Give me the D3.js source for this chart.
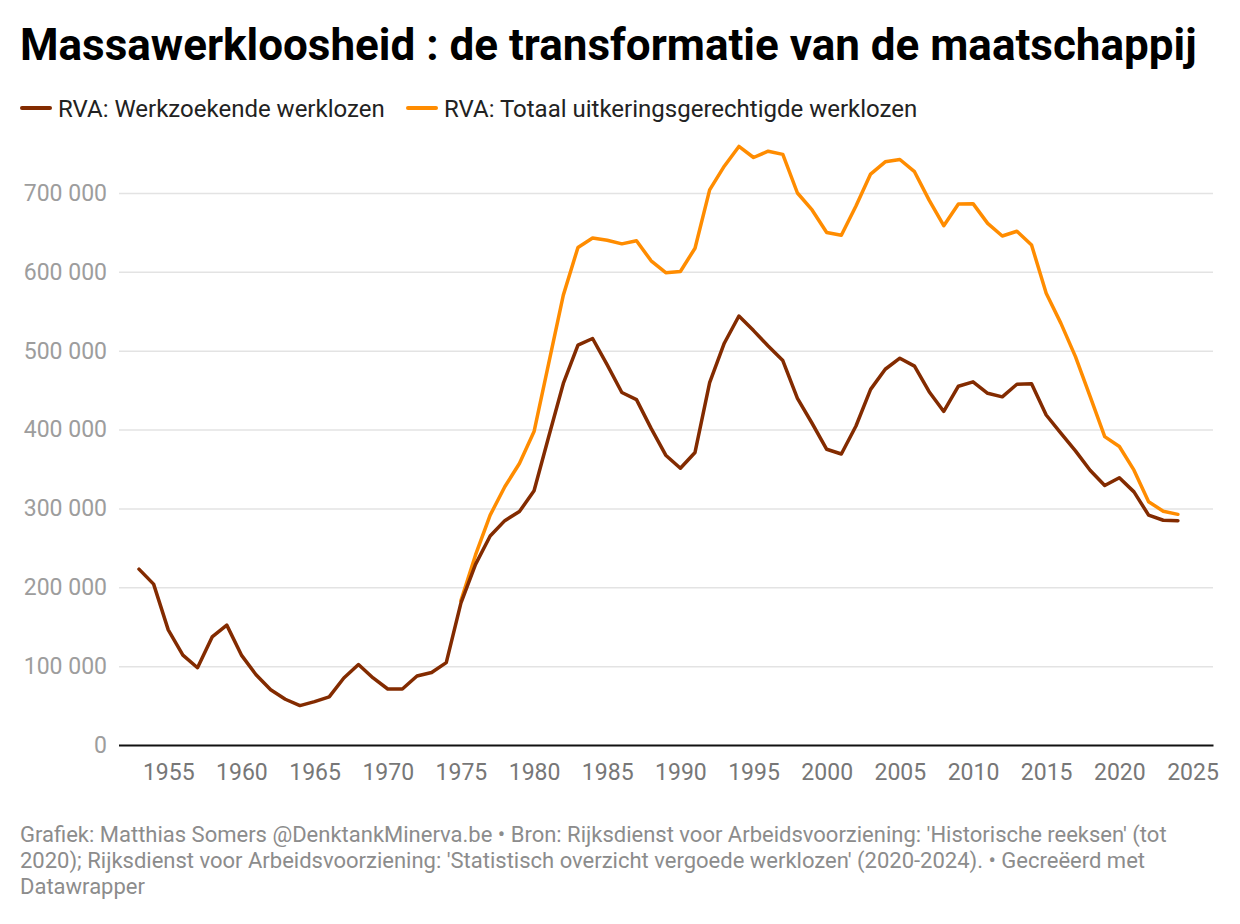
<!DOCTYPE html>
<html>
<head>
<meta charset="utf-8">
<script src="https://cdn.jsdelivr.net/npm/d3@7"></script>
<style>
  body { margin: 0; background: #fff; font-family: Roboto, sans-serif; }
  svg text { font-family: Roboto, sans-serif; }
</style>
</head>
<body>
<svg id="chart" width="1240" height="924"></svg>
<script>
// years for both series
var years = d3.range(1953, 2025);

// RVA: Werkzoekende werklozen (1953-2024)
var werkzoekend = [
    223000, 204000, 146000, 114000, 98000, 137000, 152000, 114000, 89000, 70000,
    58000, 50000, 55000, 61000, 85000, 102000, 85000, 71000, 71000, 87500,
    92000, 104500, 180000, 229000, 265000, 284500, 296000, 322500, 391000, 458500,
    507000, 515500, 482000, 447000, 438000, 401500, 367500, 351000, 371000, 459500,
    509500, 544000, 525500, 506000, 487500, 439500, 408000, 375000, 369000, 404500,
    451000, 476500, 490500, 480500, 448000, 423000, 455000, 460500, 446000, 441500,
    457500, 458000, 418500, 395500, 373000, 348500, 329000, 339000, 321000, 291500,
    285000, 284500
];

// RVA: Totaal uitkeringsgerechtigde werklozen (1975-2024)
var totaalYears = d3.range(1975, 2025);
var totaal = [
    183000, 241000, 291500, 327500, 357000, 397500, 484000, 570500, 631000, 643000,
    640000, 635500, 639500, 614000, 599000, 600500, 630000, 704000, 734000, 759000,
    745000, 753000, 749000, 700000, 678500, 650000, 646500, 683500, 724000, 739500,
    742500, 727000, 691000, 658500, 686000, 686500, 661500, 645500, 651500, 634000,
    573000, 535000, 492500, 442000, 391000, 378500, 348500, 308500, 296500, 292500
];

var yTicks = [0, 100000, 200000, 300000, 400000, 500000, 600000, 700000];
var xTicks = d3.range(1955, 2026, 5);

var svg = d3.select("#chart");

var x = d3.scaleLinear().domain([1951.6, 2026.4]).range([118.5, 1213]);
var y = d3.scaleLinear().domain([0, 700000]).range([745, 193]);

var fmt = function (d) { return d3.format(",")(d).replace(/,/g, " "); };

// title
svg.append("text")
    .attr("x", 20).attr("y", 60)
    .attr("font-size", 44).attr("font-weight", 700)
    .attr("fill", "#000")
    .text("Massawerkloosheid : de transformatie van de maatschappij");

// legend
var legend = [
    { label: "RVA: Werkzoekende werklozen", color: "#832b00", x: 20 },
    { label: "RVA: Totaal uitkeringsgerechtigde werklozen", color: "#ff8c00", x: 406 }
];
var lg = svg.selectAll("g.legend").data(legend).enter().append("g")
    .attr("class", "legend")
    .attr("transform", (d) => `translate(${d.x},108)`);
lg.append("line")
    .attr("x1", 2).attr("x2", 30).attr("y1", 0).attr("y2", 0)
    .attr("stroke", (d) => d.color).attr("stroke-width", 4)
    .attr("stroke-linecap", "round");
lg.append("text")
    .attr("x", 38).attr("y", 8.5)
    .attr("font-size", 24).attr("fill", "#222")
    .text((d) => d.label);

// y grid + labels
var yAxis = d3.axisLeft(y).tickValues(yTicks).tickSize(-(1213 - 119)).tickFormat(fmt);
var gy = svg.append("g").attr("transform", "translate(119,0)").call(yAxis);
gy.select(".domain").remove();
gy.selectAll(".tick line").attr("stroke", "#e3e3e3").attr("stroke-width", 1.5);
gy.selectAll(".tick text")
    .attr("x", -12).attr("dy", "0.32em")
    .attr("font-size", 23).attr("fill", "#9d9d9d")
    .attr("font-family", "Roboto, sans-serif");
gy.selectAll(".tick").filter((d) => d === 0).select("line").remove();

// x axis
var xAxis = d3.axisBottom(x).tickValues(xTicks).tickSize(0).tickFormat(d3.format("d"));
var gx = svg.append("g").attr("transform", "translate(0,745)").call(xAxis);
gx.select(".domain").attr("stroke", "#111").attr("stroke-width", 2.2);
gx.selectAll(".tick text")
    .attr("y", 35).attr("dy", 0)
    .attr("font-size", 23).attr("fill", "#777")
    .attr("font-family", "Roboto, sans-serif");

// lines
var line = d3.line()
    .x((d) => x(d[0]))
    .y((d) => y(d[1]));

svg.append("path")
    .datum(d3.zip(totaalYears, totaal))
    .attr("d", line)
    .attr("fill", "none")
    .attr("stroke", "#ff8c00")
    .attr("stroke-width", 3.5)
    .attr("stroke-linejoin", "round")
    .attr("stroke-linecap", "round");

svg.append("path")
    .datum(d3.zip(years, werkzoekend))
    .attr("d", line)
    .attr("fill", "none")
    .attr("stroke", "#832b00")
    .attr("stroke-width", 3.5)
    .attr("stroke-linejoin", "round")
    .attr("stroke-linecap", "round");

// footer
var footer = [
    "Grafiek: Matthias Somers @DenktankMinerva.be • Bron: Rijksdienst voor Arbeidsvoorziening: 'Historische reeksen' (tot",
    "2020); Rijksdienst voor Arbeidsvoorziening: 'Statistisch overzicht vergoede werklozen' (2020-2024). • Gecreëerd met",
    "Datawrapper"
];
svg.selectAll("text.footer").data(footer).enter().append("text")
    .attr("class", "footer")
    .attr("x", 20)
    .attr("y", (d, i) => 842 + i * 25.8)
    .attr("font-size", 22).attr("fill", "#8c8c8c")
    .text((d) => d);
</script>
</body>
</html>
